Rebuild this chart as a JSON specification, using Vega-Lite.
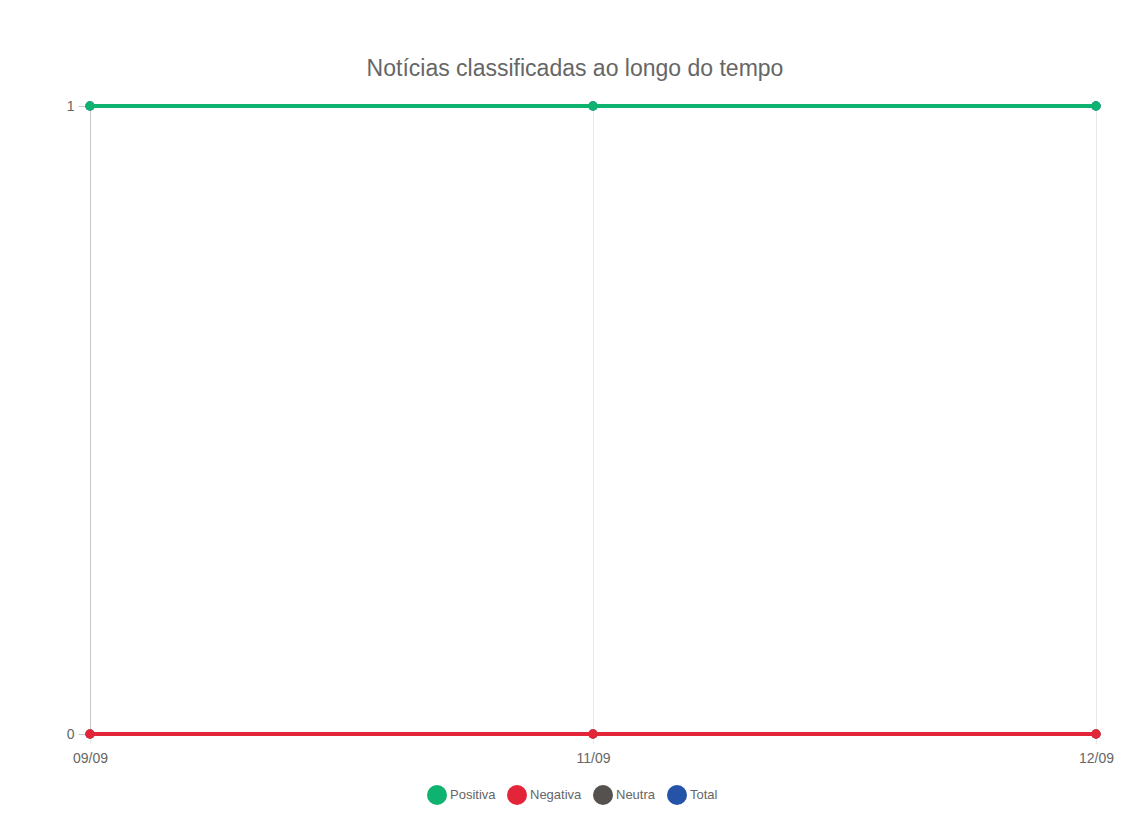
{
  "$schema": "https://vega.github.io/schema/vega-lite/v6.json",
  "autosize": {"type": "none"},
  "width": 1006,
  "height": 628,
  "padding": {"left": 90, "top": 106, "right": 38, "bottom": 97},
  "background": "white",
  "config": {
    "font": "Liberation Sans",
    "view": {"stroke": null},
    "axis": {"labelFont": "Liberation Sans", "labelColor": "#666666", "labelFontSize": 14}
  },
  "title": {
    "text": "Notícias classificadas ao longo do tempo",
    "fontSize": 23,
    "fontWeight": "normal",
    "color": "#666666",
    "font": "Liberation Sans",
    "anchor": "middle",
    "baseline": "alphabetic",
    "offset": -1,
    "dx": -18
  },
  "data": {
    "values": [
      {"date": "09/09", "serie": "Positiva", "valor": 1},
      {"date": "11/09", "serie": "Positiva", "valor": 1},
      {"date": "12/09", "serie": "Positiva", "valor": 1},
      {"date": "09/09", "serie": "Negativa", "valor": 0},
      {"date": "11/09", "serie": "Negativa", "valor": 0},
      {"date": "12/09", "serie": "Negativa", "valor": 0},
      {"date": "09/09", "serie": "Neutra", "valor": 0},
      {"date": "11/09", "serie": "Neutra", "valor": 0},
      {"date": "12/09", "serie": "Neutra", "valor": 0},
      {"date": "09/09", "serie": "Total", "valor": 1},
      {"date": "11/09", "serie": "Total", "valor": 1},
      {"date": "12/09", "serie": "Total", "valor": 1}
    ]
  },
  "encoding": {
    "x": {
      "field": "date",
      "type": "ordinal",
      "sort": ["09/09", "11/09", "12/09"],
      "scale": {"type": "point", "padding": 0},
      "axis": {
        "title": null,
        "labelAngle": 0,
        "labelColor": "#666666",
        "labelFontSize": 14,
        "grid": true,
        "gridColor": "#e8e8e8",
        "domain": false,
        "tickColor": "#e8e8e8",
        "tickSize": 10,
        "labelPadding": 7
      }
    },
    "y": {
      "field": "valor",
      "type": "quantitative",
      "scale": {"domain": [0, 1], "nice": false},
      "axis": {
        "title": null,
        "values": [0, 1],
        "format": "d",
        "labelColor": "#666666",
        "labelFontSize": 14,
        "grid": false,
        "domainColor": "#c8c8c8",
        "tickColor": "#c8c8c8",
        "tickSize": 12,
        "labelPadding": 4
      }
    },
    "color": {
      "field": "serie",
      "type": "nominal",
      "scale": {
        "domain": ["Positiva", "Negativa", "Neutra", "Total"],
        "range": ["#0db36f", "#e3253a", "#55514e", "#2453a8"]
      },
      "legend": {
        "title": null,
        "orient": "none",
        "direction": "horizontal",
        "legendX": 337,
        "legendY": 679,
        "symbolType": "circle",
        "symbolSize": 400,
        "labelFontSize": 13,
        "labelColor": "#666666",
        "labelFont": "Liberation Sans",
        "labelOffset": 3,
        "columnPadding": 11,
        "symbolOpacity": 1,
        "symbolStrokeWidth": 0,
        "encode": {
          "symbols": {
            "update": {
              "fill": {"scale": "color", "field": "value"},
              "opacity": {"value": 1},
              "strokeWidth": {"value": 0}
            }
          }
        }
      }
    }
  },
  "layer": [
    {"transform": [{"filter": "datum.serie === 'Total'"}], "mark": {"type": "line", "strokeWidth": 4}},
    {"transform": [{"filter": "datum.serie === 'Total'"}], "mark": {"type": "point", "filled": true, "size": 90, "opacity": 1}},
    {"transform": [{"filter": "datum.serie === 'Neutra'"}], "mark": {"type": "line", "strokeWidth": 4}},
    {"transform": [{"filter": "datum.serie === 'Neutra'"}], "mark": {"type": "point", "filled": true, "size": 90, "opacity": 1}},
    {"transform": [{"filter": "datum.serie === 'Negativa'"}], "mark": {"type": "line", "strokeWidth": 4}},
    {"transform": [{"filter": "datum.serie === 'Negativa'"}], "mark": {"type": "point", "filled": true, "size": 90, "opacity": 1}},
    {"transform": [{"filter": "datum.serie === 'Positiva'"}], "mark": {"type": "line", "strokeWidth": 4}},
    {"transform": [{"filter": "datum.serie === 'Positiva'"}], "mark": {"type": "point", "filled": true, "size": 90, "opacity": 1}}
  ]
}
